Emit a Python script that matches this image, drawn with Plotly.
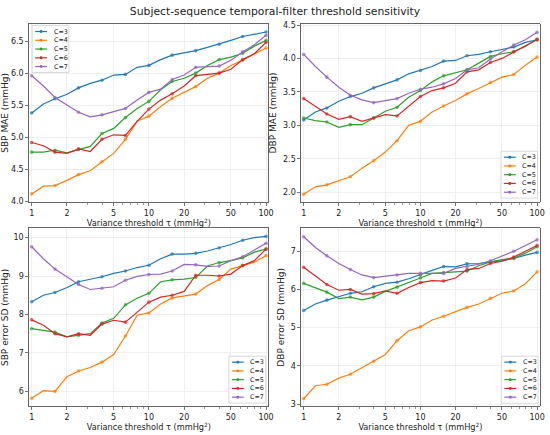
import plotly.graph_objects as go

# ---------------- data ----------------
tau = [1.0, 1.26, 1.58, 2.0, 2.51, 3.16, 3.98, 5.01, 6.31, 7.94, 10.0,
       12.6, 15.8, 20.0, 25.1, 31.6, 39.8, 50.1, 63.1, 79.4, 100.0]
series_labels = ["C=3", "C=4", "C=5", "C=6", "C=7"]
x_tick_vals = [1, 2, 5, 10, 20, 50, 100]
x_tick_text = ["1", "2", "5", "10", "20", "50", "100"]
x_minor_vals = [3, 4, 6, 7, 8, 9, 30, 40, 60, 70, 80, 90]

# SBP MAE (mmHg)
sbp_mae_c3 = [5.38, 5.52, 5.60, 5.67, 5.77, 5.84, 5.89, 5.97, 5.98, 6.09, 6.12,
              6.21, 6.28, 6.31, 6.35, 6.40, 6.45, 6.51, 6.57, 6.61, 6.64]
sbp_mae_c4 = [4.12, 4.24, 4.25, 4.33, 4.42, 4.48, 4.62, 4.75, 4.97, 5.25, 5.33,
              5.48, 5.61, 5.70, 5.79, 5.92, 6.00, 6.12, 6.20, 6.30, 6.39]
sbp_mae_c5 = [4.77, 4.77, 4.80, 4.76, 4.81, 4.86, 5.06, 5.14, 5.31, 5.45, 5.56,
              5.74, 5.87, 5.92, 6.00, 6.12, 6.21, 6.25, 6.31, 6.42, 6.51]
sbp_mae_c6 = [4.92, 4.87, 4.77, 4.75, 4.82, 4.78, 4.97, 5.04, 5.03, 5.25, 5.44,
              5.58, 5.68, 5.80, 5.96, 5.98, 6.00, 6.06, 6.21, 6.30, 6.48]
sbp_mae_c7 = [5.96, 5.80, 5.62, 5.50, 5.39, 5.32, 5.35, 5.40, 5.45, 5.58, 5.70,
              5.75, 5.90, 5.97, 6.09, 6.10, 6.11, 6.20, 6.33, 6.44, 6.59]

# DBP MAE (mmHg)
dbp_mae_c3 = [3.08, 3.20, 3.26, 3.36, 3.43, 3.48, 3.56, 3.62, 3.68, 3.77, 3.82,
              3.88, 3.96, 3.97, 4.04, 4.06, 4.10, 4.13, 4.17, 4.24, 4.28]
dbp_mae_c4 = [1.97, 2.08, 2.11, 2.17, 2.23, 2.36, 2.47, 2.60, 2.77, 3.00, 3.06,
              3.20, 3.29, 3.37, 3.47, 3.55, 3.64, 3.72, 3.76, 3.90, 4.02]
dbp_mae_c5 = [3.11, 3.07, 3.05, 2.97, 3.01, 3.01, 3.11, 3.21, 3.27, 3.42, 3.52,
              3.65, 3.74, 3.78, 3.83, 3.93, 4.03, 4.07, 4.10, 4.18, 4.29]
dbp_mae_c6 = [3.40, 3.28, 3.17, 3.09, 3.13, 3.06, 3.11, 3.16, 3.14, 3.28, 3.43,
              3.52, 3.56, 3.63, 3.80, 3.83, 3.94, 4.00, 4.10, 4.19, 4.28]
dbp_mae_c7 = [4.06, 3.88, 3.72, 3.57, 3.45, 3.38, 3.34, 3.37, 3.40, 3.48, 3.54,
              3.57, 3.62, 3.70, 3.83, 3.86, 3.99, 4.10, 4.20, 4.28, 4.39]

# SBP error SD (mmHg)
sbp_sd_c3 = [8.33, 8.50, 8.57, 8.70, 8.85, 8.92, 8.98, 9.07, 9.13, 9.22, 9.28,
             9.45, 9.57, 9.57, 9.59, 9.65, 9.73, 9.82, 9.93, 10.00, 10.03]
sbp_sd_c4 = [5.82, 6.02, 6.00, 6.38, 6.53, 6.62, 6.76, 6.96, 7.44, 7.98, 8.04,
             8.27, 8.43, 8.48, 8.53, 8.75, 8.91, 9.18, 9.28, 9.36, 9.53]
sbp_sd_c5 = [7.63, 7.58, 7.54, 7.42, 7.46, 7.50, 7.78, 7.90, 8.25, 8.42, 8.55,
             8.85, 8.90, 8.92, 8.96, 9.26, 9.35, 9.40, 9.47, 9.62, 9.70]
sbp_sd_c6 = [7.86, 7.72, 7.50, 7.42, 7.50, 7.46, 7.75, 7.85, 7.80, 8.05, 8.32,
             8.45, 8.50, 8.60, 9.02, 9.02, 9.00, 9.05, 9.27, 9.40, 9.70]
sbp_sd_c7 = [9.76, 9.45, 9.18, 8.97, 8.78, 8.65, 8.68, 8.72, 8.89, 8.99, 9.04,
             9.05, 9.13, 9.30, 9.29, 9.25, 9.26, 9.40, 9.50, 9.68, 9.85]

# DBP error SD (mmHg)
dbp_sd_c3 = [5.45, 5.62, 5.72, 5.82, 5.90, 5.94, 6.07, 6.16, 6.19, 6.28, 6.38,
             6.50, 6.60, 6.59, 6.67, 6.68, 6.72, 6.75, 6.81, 6.90, 6.97]
dbp_sd_c4 = [3.14, 3.48, 3.52, 3.68, 3.78, 3.95, 4.12, 4.30, 4.66, 4.92, 5.02,
             5.20, 5.30, 5.42, 5.53, 5.62, 5.77, 5.90, 5.96, 6.15, 6.46]
dbp_sd_c5 = [6.16, 6.05, 5.93, 5.76, 5.80, 5.73, 5.80, 5.95, 6.06, 6.17, 6.30,
             6.42, 6.44, 6.45, 6.48, 6.62, 6.72, 6.78, 6.82, 6.95, 7.12]
dbp_sd_c6 = [6.58, 6.35, 6.13, 5.98, 6.00, 5.88, 5.89, 5.96, 5.90, 6.05, 6.18,
             6.23, 6.22, 6.30, 6.52, 6.55, 6.68, 6.74, 6.85, 7.00, 7.15]
dbp_sd_c7 = [7.38, 7.10, 6.88, 6.68, 6.52, 6.38, 6.31, 6.35, 6.38, 6.42, 6.42,
             6.42, 6.42, 6.55, 6.60, 6.66, 6.75, 6.87, 7.00, 7.15, 7.30]

# ---------------- style ----------------
W, H = 550, 435
colors = ["#1f77b4", "#ff7f0e", "#2ca02c", "#d62728", "#9467bd"]
FONT = "DejaVu Sans"
TXT = "#222222"
FRAME = "#555555"
GRID = "#ebebeb"

panels = [
    dict(series=[sbp_mae_c3, sbp_mae_c4, sbp_mae_c5, sbp_mae_c6, sbp_mae_c7],
         ytitle="SBP MAE (mmHg)", yrange=[3.99, 6.77], dtick=0.5, fmt=".1f",
         xdom=[29.5, 271], ydom=[21, 202.5], leg=(32.5, 23)),
    dict(series=[dbp_mae_c3, dbp_mae_c4, dbp_mae_c5, dbp_mae_c6, dbp_mae_c7],
         ytitle="DBP MAE (mmHg)", yrange=[1.85, 4.52], dtick=0.5, fmt=".1f",
         xdom=[304, 544.5], ydom=[21, 202.5], leg=(505.5, 150.7)),
    dict(series=[sbp_sd_c3, sbp_sd_c4, sbp_sd_c5, sbp_sd_c6, sbp_sd_c7],
         ytitle="SBP error SD (mmHg)", yrange=[5.61, 10.24], dtick=1, fmt="d",
         xdom=[29.5, 271], ydom=[229, 410], leg=(231, 359)),
    dict(series=[dbp_sd_c3, dbp_sd_c4, dbp_sd_c5, dbp_sd_c6, dbp_sd_c7],
         ytitle="DBP error SD (mmHg)", yrange=[2.94, 7.60], dtick=1, fmt="d",
         xdom=[304, 544.5], ydom=[229, 410], leg=(506, 359)),
]

marker_sizes = [3.6 if i % 2 == 0 else 0 for i in range(len(tau))]

fig = go.Figure()
shapes = []
annotations = []

def px_x(v):
    return v / W

def px_y(v):
    return 1 - v / H

for k, p in enumerate(panels):
    sfx = "" if k == 0 else str(k + 1)
    for j, (vals, lab) in enumerate(zip(p["series"], series_labels)):
        fig.add_trace(go.Scatter(
            x=tau, y=vals, mode="lines+markers", name=lab,
            line=dict(color=colors[j], width=1.2),
            marker=dict(color=colors[j], size=marker_sizes, symbol="circle",
                        line=dict(width=0)),
            xaxis="x" + sfx, yaxis="y" + sfx, showlegend=False,
        ))
    xa = dict(
        type="log", range=[-0.021, 2.021],
        domain=[px_x(p["xdom"][0]), px_x(p["xdom"][1])],
        anchor="y" + sfx,
        tickmode="array", tickvals=x_tick_vals, ticktext=x_tick_text,
        ticks="outside", ticklen=3, tickwidth=0.8, tickcolor=FRAME,
        showline=True, linecolor=FRAME, linewidth=0.9, mirror=True,
        showgrid=True, gridcolor=GRID, gridwidth=0.8, zeroline=False,
        tickfont=dict(family=FONT, size=8, color=TXT),
        minor=dict(tickmode="array", tickvals=x_minor_vals, ticks="outside",
                   ticklen=1.8, tickwidth=0.6, tickcolor=FRAME, showgrid=False),
        title=dict(text="Variance threshold τ (mmHg<sup>2</sup>)",
                   font=dict(family=FONT, size=8.2, color=TXT), standoff=2),
    )
    ya = dict(
        range=p["yrange"],
        domain=[px_y(p["ydom"][1]), px_y(p["ydom"][0])],
        anchor="x" + sfx,
        tickmode="linear", tick0=0, dtick=p["dtick"], tickformat=p["fmt"],
        ticks="outside", ticklen=3, tickwidth=0.8, tickcolor=FRAME,
        showline=True, linecolor=FRAME, linewidth=0.9, mirror=True,
        showgrid=True, gridcolor=GRID, gridwidth=0.8, zeroline=False,
        tickfont=dict(family=FONT, size=8, color=TXT),
        title=dict(text=p["ytitle"], font=dict(family=FONT, size=9, color=TXT),
                   standoff=4),
    )
    fig.layout["xaxis" + sfx] = xa
    fig.layout["yaxis" + sfx] = ya

    # legend box drawn in figure pixels
    lx, ly = p["leg"]
    bw, gap, pad = 37.0, 8.9, 6.0
    bh = pad * 2 + gap * (len(series_labels) - 1)
    shapes.append(dict(type="rect", xref="paper", yref="paper",
                       x0=px_x(lx), x1=px_x(lx + bw), y0=px_y(ly + bh), y1=px_y(ly),
                       line=dict(color="#d0d0d0", width=0.8),
                       fillcolor="rgba(255,255,255,0.85)", layer="above"))
    for j, lab in enumerate(series_labels):
        cy = ly + pad + gap * j
        shapes.append(dict(type="line", xref="paper", yref="paper",
                           x0=px_x(lx + 3), x1=px_x(lx + 15), y0=px_y(cy), y1=px_y(cy),
                           line=dict(color=colors[j], width=1.2), layer="above"))
        r = 1.5
        shapes.append(dict(type="circle", xref="paper", yref="paper",
                           x0=px_x(lx + 9 - r), x1=px_x(lx + 9 + r),
                           y0=px_y(cy + r), y1=px_y(cy - r),
                           line=dict(width=0), fillcolor=colors[j], layer="above"))
        annotations.append(dict(text=lab, xref="paper", yref="paper",
                                x=px_x(lx + 19.5), y=px_y(cy), xanchor="left",
                                yanchor="middle", showarrow=False,
                                font=dict(family=FONT, size=6.4, color=TXT)))

fig.update_layout(
    width=W, height=H, autosize=False,
    margin=dict(l=0, r=0, t=0, b=0),
    paper_bgcolor="white", plot_bgcolor="white",
    title=dict(text="Subject-sequence temporal-filter threshold sensitivity",
               x=0.5, xanchor="center", y=px_y(11.5), yanchor="middle",
               font=dict(family=FONT, size=10.8, color=TXT)),
    shapes=shapes, annotations=annotations,
    showlegend=False, hovermode=False,
)

fig.write_html("out.html", config={"displayModeBar": False, "staticPlot": True})

# remove the browser's default page margin so the figure sits at the window origin
with open("out.html", "r", encoding="utf-8") as fh:
    page = fh.read()
page = page.replace("<head>", "<head><style>html,body{margin:0;padding:0;overflow:hidden;}</style>", 1)
with open("out.html", "w", encoding="utf-8") as fh:
    fh.write(page)
